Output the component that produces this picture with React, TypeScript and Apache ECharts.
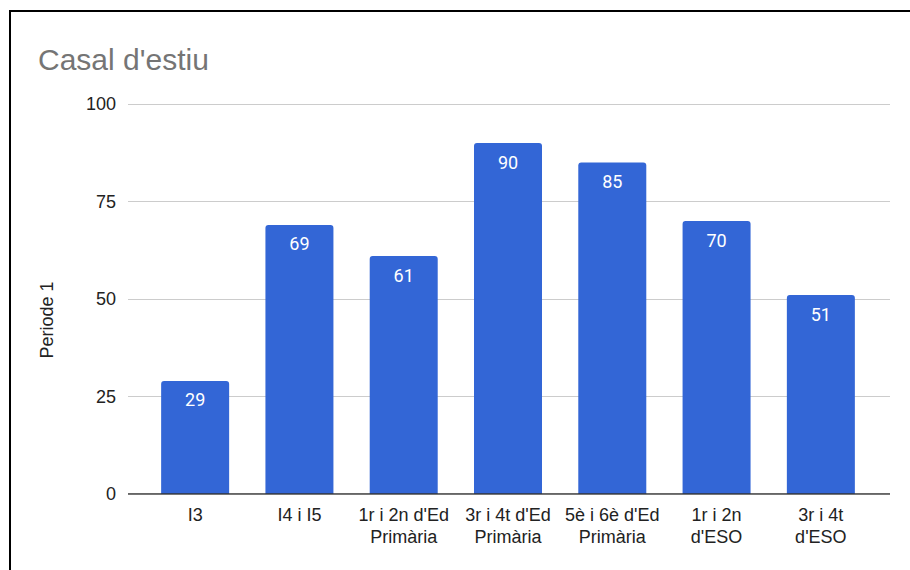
import React, { useEffect, useRef } from "react";
import * as echarts from "echarts";

const categories = [
  "I3",
  "I4 i I5",
  "1r i 2n d'Ed\nPrimària",
  "3r i 4t d'Ed\nPrimària",
  "5è i 6è d'Ed\nPrimària",
  "1r i 2n\nd'ESO",
  "3r i 4t\nd'ESO",
];
const periode1 = [29, 69, 61, 90, 85, 70, 51];
const titleText = "Casal d'estiu";
const yAxisTitle = "Periode 1";
const yMin = 0;
const yMax = 100;
const yInterval = 25;

const FONT = "'Liberation Sans', Arial, sans-serif";

export default function App() {
  const ref = useRef<HTMLDivElement>(null);
  useEffect(() => {
    if (!ref.current) return;
    const chart = echarts.init(ref.current, undefined, { renderer: "svg" });
    chart.setOption({
      animation: false,
      backgroundColor: "#ffffff",
      title: {
        text: titleText,
        left: 33,
        top: 39,
        textStyle: { fontFamily: FONT, fontSize: 30, fontWeight: "normal", color: "#757575" },
      },
      graphic: [
        {
          type: "rect",
          shape: { x: 10, y: 11, width: 960, height: 620 },
          style: { fill: "none", stroke: "#000", lineWidth: 2 },
          z: 100,
        },
        {
          type: "text",
          x: 47,
          y: 320,
          rotation: Math.PI / 2,
          style: {
            text: yAxisTitle,
            fontFamily: FONT,
            fontSize: 18,
            fill: "#222",
            align: "center",
            verticalAlign: "middle",
          },
        },
      ],
      grid: [
        { left: 128, right: 20, top: 104, bottom: 76 },
        { left: 143, right: 37, top: 104, bottom: 76 },
      ],
      xAxis: [
        {
          gridIndex: 0,
          type: "value",
          show: true,
          min: 0,
          max: 1,
          axisLine: { show: false },
          axisTick: { show: false },
          axisLabel: { show: false },
          splitLine: { show: false },
        },
        {
          gridIndex: 1,
          type: "category",
          data: categories,
          axisLine: { show: false },
          axisTick: { show: false },
          axisLabel: {
            fontFamily: FONT,
            fontSize: 18,
            color: "#222",
            margin: 10,
            lineHeight: 22,
            interval: 0,
          },
        },
      ],
      yAxis: [
        {
          gridIndex: 0,
          type: "value",
          min: yMin,
          max: yMax,
          interval: yInterval,
          axisLine: { show: false },
          axisTick: { show: false },
          axisLabel: { fontFamily: FONT, fontSize: 18, color: "#222", margin: 12 },
          splitLine: { lineStyle: { color: "#cccccc", width: 1 } },
        },
        {
          gridIndex: 1,
          type: "value",
          min: yMin,
          max: yMax,
          interval: yInterval,
          show: false,
          splitLine: { show: false },
        },
      ],
      series: [
        {
          type: "bar",
          xAxisIndex: 1,
          yAxisIndex: 1,
          data: periode1,
          barWidth: 68,
          itemStyle: { color: "#3366d6", borderRadius: [3, 3, 0, 0] },
          label: {
            show: true,
            position: "insideTop",
            distance: 10,
            color: "#ffffff",
            fontFamily: "Roboto, sans-serif",
            fontSize: 18,
          },
          z: 3,
        },
        {
          type: "line",
          xAxisIndex: 0,
          yAxisIndex: 0,
          data: [
            [0, 0],
            [1, 0],
          ],
          symbol: "none",
          lineStyle: { color: "#333333", width: 1.5 },
          silent: true,
          z: 5,
        },
      ],
    });
    return () => chart.dispose();
  }, []);
  return (
    <div
      ref={ref}
      style={{ position: "absolute", left: 0, top: 0, width: 910, height: 570 }}
    />
  );
}
